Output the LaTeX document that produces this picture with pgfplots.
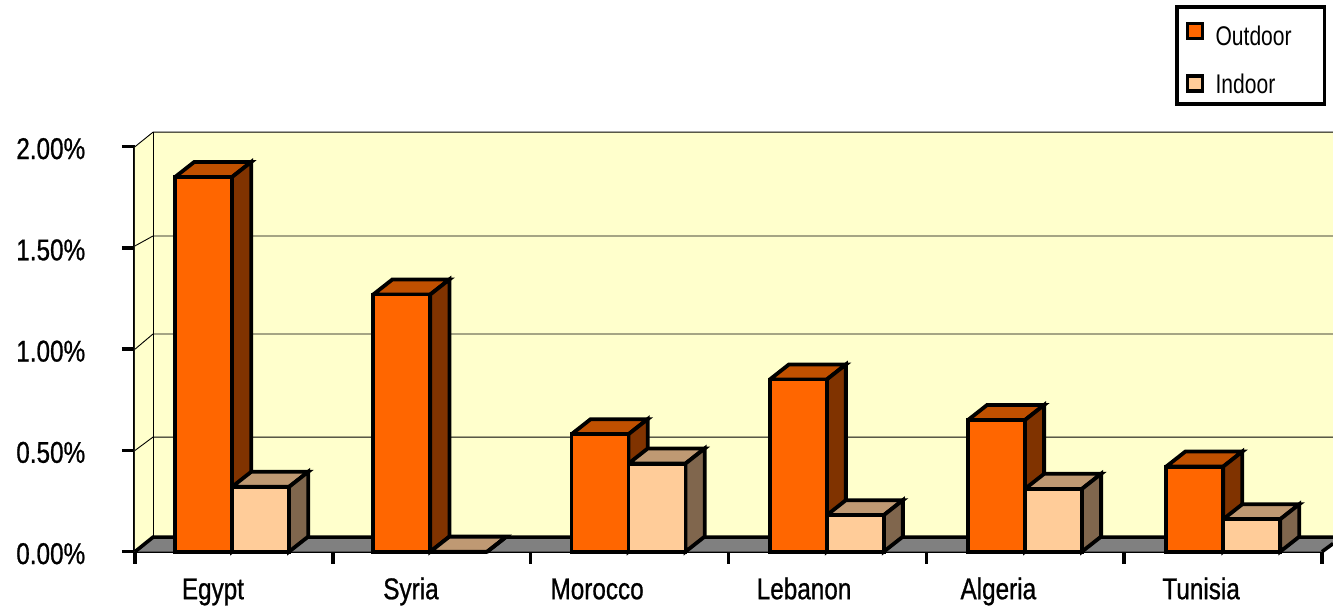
\documentclass[border=0pt]{standalone}
\usepackage{fontspec}
\setmainfont{Liberation Sans}
\newfontfamily\lab[FakeStretch=0.81,FakeBold=0.8]{Liberation Sans}
\newfontfamily\leg[FakeStretch=0.78]{Liberation Sans}
\usepackage{pgfplots}
\pgfplotsset{compat=1.18}
\definecolor{wall}{HTML}{FFFFCC}
\definecolor{floorc}{HTML}{808080}
\definecolor{ofront}{HTML}{FF6600}
\definecolor{otop}{HTML}{C05000}
\definecolor{oside}{HTML}{803300}
\definecolor{ifront}{HTML}{FFCC99}
\definecolor{itop}{HTML}{BF9973}
\definecolor{iside}{HTML}{80664D}
% depth of the 3D effect in axis units
\def\dX{0.097}
\def\dY{0.0745}
\newcommand\boxparts[6]{% cat, left px offset, right px offset, value, top, side
  \pgfmathsetmacro\xa{#1+#2/197.83}
  \pgfmathsetmacro\xb{#1+#3/197.83}
  \pgfmathsetmacro\xc{\xa+\dX}
  \pgfmathsetmacro\xd{\xb+\dX}
  \pgfmathsetmacro\yt{#4+\dY}
  \pgfmathsetmacro\yf{\dY}
  \addplot[forget plot,draw=black,line width=3.8pt,fill=#5] coordinates {(\xa,#4) (\xc,\yt) (\xd,\yt) (\xb,#4) (\xa,#4)};
  \addplot[forget plot,draw=black,line width=3.8pt,fill=#6] coordinates {(\xb,#4) (\xd,\yt) (\xd,\yf) (\xb,0) (\xb,#4)};
}
\newcommand\gridat[2]{%
  \addplot[forget plot,draw=black,line width=0.9pt] coordinates {(-0.5,#1) (-0.409,#2) (5.556,#2)};
}
\begin{document}
\begin{tikzpicture}
\path[use as bounding box] (-135pt,-57.3pt) rectangle (1198pt,551.7pt);
\begin{axis}[
  at={(0,0)},anchor=south west,
  scale only axis,width=1187pt,height=405pt,
  xmin=-0.5,xmax=5.5,ymin=0,ymax=2,
  clip=false,
  axis x line=bottom,axis y line=left,
  axis line style={line width=3.6pt,-},
  x axis line style={-},y axis line style={-},
  tick align=outside,
  ytick={0,0.5,1,1.5,2},
  yticklabels={0.00\%,0.50\%,1.00\%,1.50\%,2.00\%},
  xtick={-0.5,0.5,1.5,2.5,3.5,4.5,5.5},
  xticklabels={},
  extra x ticks={-0.106,0.895,1.836,2.882,3.864,4.889},
  extra x tick labels={Egypt,Syria,Morocco,Lebanon,Algeria,Tunisia},
  extra x tick style={major tick length=0pt,tick style={draw=none}},
  ytick style={line width=3.6pt,black,/pgfplots/major tick length=13pt},
  xtick style={line width=3.6pt,black,/pgfplots/major tick length=12pt},
  yticklabel style={font=\lab\fontsize{30}{32}\selectfont,anchor=east,xshift=-42pt,yshift=-2pt},
  xticklabel style={font=\lab\fontsize{30}{32}\selectfont,anchor=base,yshift=-47.5pt},
  legend style={at={(1040pt,551.7pt-5.5pt)},anchor=north west,
    draw=black,line width=3.5pt,font=\leg\fontsize{27}{30}\selectfont,
    row sep=23pt,inner xsep=9pt,inner ysep=7pt},
  legend cell align=left,
]
% walls and floor
\addplot[forget plot,draw=none,fill=wall] coordinates {(-0.5,0) (-0.409,0.0716) (-0.409,2.0716) (-0.5,2) (-0.5,0)};
\addplot[forget plot,draw=none,fill=wall] coordinates {(-0.409,0.0716) (5.556,0.0716) (5.556,2.0716) (-0.409,2.0716) (-0.409,0.0716)};
\gridat{0.5}{0.566}\gridat{1}{1.075}\gridat{1.51}{1.559}\gridat{2}{2.0716}
\addplot[forget plot,draw=black,line width=0.9pt] coordinates {(-0.409,0.0716) (-0.409,2.0716)};
\addplot[forget plot,draw=none,fill=floorc] coordinates {(-0.5,0) (-0.409,0.0716) (5.556,0.0716) (5.556,0.04) (5.5,0) (-0.5,0)};
\addplot[forget plot,draw=black,line width=3.6pt] coordinates {(-0.5,0) (-0.409,0.0716) (5.556,0.0716)};
\addplot[forget plot,draw=black,line width=3.6pt] coordinates {(5.5,0) (5.556,0.04)};
% outdoor bars: tops and sides
\boxparts{0}{-58.9}{-1.9}{1.85}{otop}{oside}
\boxparts{1.002}{-58.9}{-1.9}{1.27}{otop}{oside}
\boxparts{2.004}{-58.9}{-1.9}{0.58}{otop}{oside}
\boxparts{3.006}{-58.9}{-1.9}{0.85}{otop}{oside}
\boxparts{4.008}{-58.9}{-1.9}{0.65}{otop}{oside}
\boxparts{5.01}{-58.9}{-1.9}{0.42}{otop}{oside}
\addplot[ybar,bar width=57pt,bar shift=-30.4pt,draw=black,line width=3.8pt,fill=ofront,
  legend image code/.code={\path[draw=none,fill=none] (0pt,0pt) -- (26pt,0pt);\draw[black,line width=3.6pt,fill=ofront] (0pt,-7pt) rectangle (15pt,8pt);}]
  coordinates {(0,1.85) (1.002,1.27) (2.004,0.58) (3.006,0.85) (4.008,0.65) (5.01,0.42)};
\addlegendentry{\rule{0pt}{29pt}Outdoor\hspace*{22pt}}
% indoor bars: tops and sides
\boxparts{0}{-1.9}{55.1}{0.32}{itop}{iside}
\boxparts{1.002}{-1.9}{55.1}{0.00}{itop}{iside}
\boxparts{2.004}{-1.9}{55.1}{0.435}{itop}{iside}
\boxparts{3.006}{-1.9}{55.1}{0.18}{itop}{iside}
\boxparts{4.008}{-1.9}{55.1}{0.31}{itop}{iside}
\boxparts{5.01}{-1.9}{55.1}{0.16}{itop}{iside}
\addplot[ybar,bar width=57pt,bar shift=26.6pt,draw=black,line width=3.8pt,fill=ifront,
  legend image code/.code={\path[draw=none,fill=none] (0pt,0pt) -- (26pt,0pt);\draw[black,line width=3.6pt,fill=ifront] (0pt,-7pt) rectangle (15pt,8pt);}]
  coordinates {(0,0.32) (1.002,0.00) (2.004,0.435) (3.006,0.18) (4.008,0.31) (5.01,0.16)};
\addlegendentry{Indoor}
\end{axis}
\end{tikzpicture}
\end{document}
